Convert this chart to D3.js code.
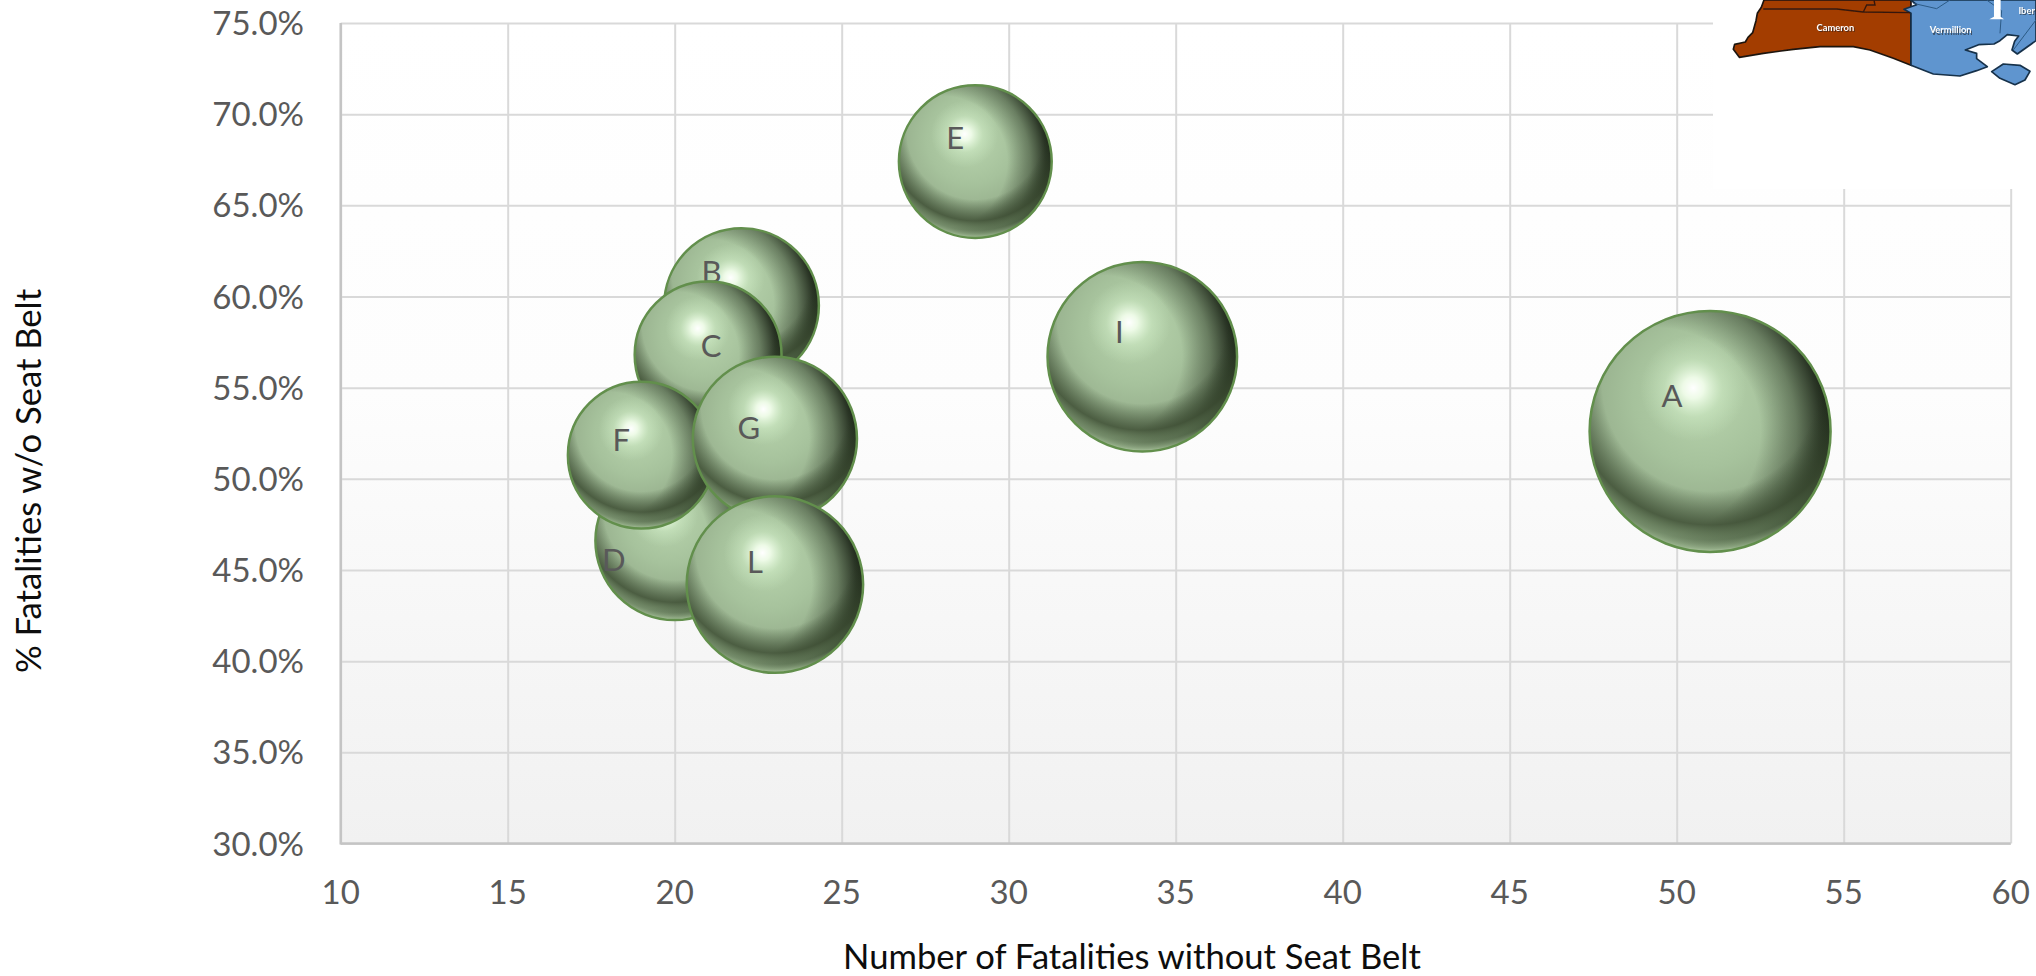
<!DOCTYPE html>
<html>
<head>
<meta charset="utf-8">
<script src="https://cdn.jsdelivr.net/npm/d3@7"></script>
<style>
html,body{margin:0;padding:0;background:#fff;overflow:hidden}
svg{display:block}
text{font-family:Lato,"Open Sans",sans-serif}
</style>
</head>
<body>
<svg id="chart" width="2036" height="976"></svg>
<script>
// Seat belt fatalities by parish group
const groups = ["A","B","C","D","E","F","G","I","L"];
const fatalitiesNoBelt = [51,22,21,20,29,19,23,34,23];
const pctNoBelt = [52.6,59.5,56.8,46.6,67.4,51.3,52.2,56.7,44.2];
const totalFatalities = [97,40,36,42,39,36,45,60,52];
const xTicks = [10,15,20,25,30,35,40,45,50,55,60];
const yTicks = [30,35,40,45,50,55,60,65,70,75];

const W = 2036, H = 976;
const plot = {left:340.7, right:2010.7, top:23, bottom:843.5};
const svg = d3.select("#chart");
const defs = svg.append("defs");

const x = d3.scaleLinear().domain([10,60]).range([plot.left,plot.right]);
const y = d3.scaleLinear().domain([30,75]).range([plot.bottom,plot.top]);
const r = d3.scaleSqrt().domain([0,97]).range([0,120.5]);

// Helper for radial gradients; each stop is [offset, colour, opacity]
function radial(id, cx, cy, rad, stops){
  const g = defs.append("radialGradient").attr("id",id)
    .attr("cx",cx).attr("cy",cy).attr("r",rad);
  stops.forEach(s => g.append("stop").attr("offset",s[0]).attr("stop-color",s[1]).attr("stop-opacity",s[2]));
}

const bg = defs.append("linearGradient").attr("id","plotBg").attr("x1",0).attr("y1",0).attr("x2",0).attr("y2",1);
bg.append("stop").attr("offset",0).attr("stop-color","#ffffff");
bg.append("stop").attr("offset",0.45).attr("stop-color","#fdfdfd");
bg.append("stop").attr("offset",1).attr("stop-color","#f1f1f1");

// Bevelled sphere: body, side shadow, lower crescent with bright rim, highlight
radial("sBody",.47,.36,.72,[[0,"#b8d4ad",1],[.4,"#a6c29c",1],[.72,"#93ab89",1],[.92,"#82937a",1],[1,"#7a8672",1]]);
radial("sRight",.28,.50,.74,[[.58,"#1a2414",0],[.78,"#1e2a18",.42],[.92,"#141c10",.82],[1,"#0c1209",.97]]);
radial("sBottom",.5,.30,.70,[[.64,"#2e3f26",0],[.84,"#3a4a30",.8],[.93,"#5c7650",.5],[.98,"#a8c69a",.65],[1,"#c4dcb6",.85]]);
radial("sGlow",.43,.32,.22,[[0,"#ffffff",1],[.2,"#f4ffee",.9],[.55,"#d8f4cf",.38],[1,"#d0f0c8",0]]);

// Plot background
svg.append("rect").attr("x",plot.left).attr("y",plot.top)
  .attr("width",plot.right-plot.left).attr("height",plot.bottom-plot.top)
  .attr("fill","url(#plotBg)");

// Gridlines
svg.append("g").attr("transform",`translate(0,${plot.bottom})`)
  .call(d3.axisBottom(x).tickValues(xTicks).tickSize(-(plot.bottom-plot.top)).tickFormat(""))
  .call(g=>g.select(".domain").remove())
  .call(g=>g.selectAll("line").attr("stroke","#d9d9d9").attr("stroke-width",2));
svg.append("g").attr("transform",`translate(${plot.left},0)`)
  .call(d3.axisLeft(y).tickValues(yTicks).tickSize(-(plot.right-plot.left)).tickFormat(""))
  .call(g=>g.select(".domain").remove())
  .call(g=>g.selectAll("line").attr("stroke","#d9d9d9").attr("stroke-width",2));

// Axis lines
svg.append("line").attr("x1",plot.left).attr("x2",plot.left).attr("y1",plot.top).attr("y2",plot.bottom+1)
  .attr("stroke","#c4c4c4").attr("stroke-width",2.5);
svg.append("line").attr("x1",plot.left).attr("x2",plot.right).attr("y1",plot.bottom).attr("y2",plot.bottom)
  .attr("stroke","#c4c4c4").attr("stroke-width",2.5);

// Tick labels
svg.append("g").selectAll("text").data(xTicks).join("text")
  .attr("x",d=>x(d)).attr("y",904).attr("text-anchor","middle")
  .attr("font-size",33).attr("fill","#595959").text(d=>d);
svg.append("g").selectAll("text").data(yTicks).join("text")
  .attr("x",304).attr("y",d=>y(d)+12).attr("text-anchor","end")
  .attr("font-size",33).attr("fill","#595959").text(d=>d.toFixed(1)+"%");

// Axis titles
svg.append("text").attr("x",1132).attr("y",969).attr("text-anchor","middle")
  .attr("font-size",34.6).attr("fill","#0d0d0d").text("Number of Fatalities without Seat Belt");
svg.append("text").attr("transform","translate(41,481) rotate(-90)").attr("text-anchor","middle")
  .attr("font-size",34.6).attr("fill","#0d0d0d").text("% Fatalities w/o Seat Belt");

// Regional map inset in the upper right corner
const inset = svg.append("g");
inset.append("rect").attr("x",1713).attr("y",0).attr("width",W-1713).attr("height",189).attr("fill","#fff");
defs.append("filter").attr("id","soft").append("feGaussianBlur").attr("stdDeviation",0.55);
defs.append("filter").attr("id","halo").append("feGaussianBlur").attr("stdDeviation",1.2);
const map = inset.append("g").attr("transform","translate(1720,0) scale(0.3333)").attr("filter","url(#soft)");
map.append("path")
  .attr("d","M132,0 L124,22 L112,40 L108,62 L98,98 L84,112 L76,126 L44,133 L40,148 L58,172 L130,160 L220,148 L300,140 L400,140 L450,150 L520,175 L573,196 L573,0 Z")
  .attr("fill","#a33c02").attr("stroke","#1e140e").attr("stroke-width",5).attr("stroke-linejoin","round");
map.append("path")
  .attr("d","M573,40 L552,28 L590,14 L572,0 L948,0 L948,122 L892,162 L876,150 L884,124 L896,108 L862,104 L840,122 L822,132 L776,134 L736,150 L770,160 L770,176 L802,200 L770,212 L720,228 L640,222 L573,196 Z")
  .attr("fill","#5f95cf").attr("stroke","#16304a").attr("stroke-width",5).attr("stroke-linejoin","round");
map.append("path")
  .attr("d","M850,192 L900,196 L930,214 L915,240 L885,254 L840,235 L815,215 Z")
  .attr("fill","#5f95cf").attr("stroke","#16304a").attr("stroke-width",5).attr("stroke-linejoin","round");
map.append("path").attr("d","M130,27 L350,27 L430,36 L570,38 M430,36 L440,15 L465,15 L462,0")
  .attr("fill","none").attr("stroke","#35190a").attr("stroke-width",4);
map.append("path").attr("d","M580,10 L650,26 L690,0 M800,0 L845,32 L840,100 M948,60 L880,150")
  .attr("fill","none").attr("stroke","#2c5a86").attr("stroke-width",3);
map.append("path").attr("d","M822,0 L842,0 L842,50 L852,58 L808,58 L822,50 Z").attr("fill","#fff");
[["Cameron",346,82],["Vermillion",692,90],["Iber",920,32]].forEach(d=>{
  map.append("text").attr("x",d[1]+3).attr("y",d[2]+14).attr("text-anchor","middle")
    .attr("font-size",28).attr("font-weight",700).attr("fill","#222").attr("opacity",.6).attr("filter","url(#halo)").text(d[0]);
  map.append("text").attr("x",d[1]).attr("y",d[2]+10).attr("text-anchor","middle")
    .attr("font-size",28).attr("font-weight",700).attr("fill","#fff").text(d[0]);
});

// Bubbles, with the label placed off-centre inside each sphere
const labelNudge = {A:[-38,-35],B:[-30,-34],C:[3,-9],D:[-61,19],E:[-20,-24],F:[-20,-15],G:[-26,-11],I:[-23,-25],L:[-20,-23]};
const bubbles = groups.map((g,i)=>({g, fx:fatalitiesNoBelt[i], pct:pctNoBelt[i], total:totalFatalities[i]}));
const node = svg.append("g").selectAll("g").data(bubbles).join("g");
["sBody","sRight","sBottom","sGlow"].forEach(id=>{
  node.append("circle").attr("cx",d=>x(d.fx)).attr("cy",d=>y(d.pct)).attr("r",d=>r(d.total)).attr("fill",`url(#${id})`);
});
node.append("circle").attr("cx",d=>x(d.fx)).attr("cy",d=>y(d.pct)).attr("r",d=>r(d.total))
  .attr("fill","none").attr("stroke","#628f4c").attr("stroke-width",2.5);
node.append("text")
  .attr("x",d=>x(d.fx)+labelNudge[d.g][0]).attr("y",d=>y(d.pct)+labelNudge[d.g][1]+11)
  .attr("text-anchor","middle").attr("font-size",31).attr("fill","#595959").text(d=>d.g);
</script>
</body>
</html>
